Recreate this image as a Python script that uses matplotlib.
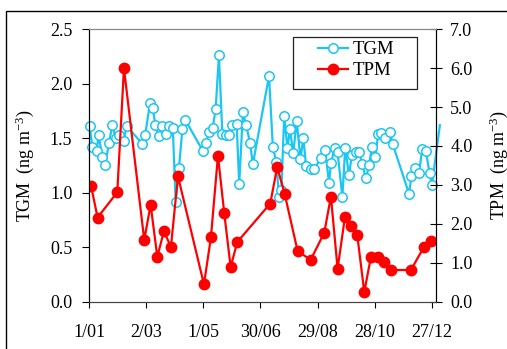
import matplotlib
matplotlib.use("Agg")
import matplotlib.pyplot as plt
from matplotlib.patches import Rectangle

plt.rcParams["font.family"] = ["Liberation Serif", "DejaVu Serif"]
plt.rcParams["mathtext.fontset"] = "custom"
plt.rcParams["mathtext.rm"] = "Liberation Serif"
plt.rcParams["mathtext.it"] = "Liberation Serif:italic"

# day of year and concentrations
tgm_day = [1.7, 4.5, 9, 11, 15, 18, 22, 25.5, 29, 32.8, 37.4, 40.5, 57, 60, 65, 68,
           70.6, 74, 78, 81.5, 85, 89, 92, 95.5, 99, 102, 120.7, 124, 127, 130.8,
           134, 137.4, 141, 145, 148, 151, 156, 158.7, 162.6, 166, 170, 173, 190,
           194, 197.6, 200.5, 203, 205.9, 209.4, 212, 215.5, 219, 223, 226, 229,
           233.7, 237.5, 245, 249, 253, 255, 259, 262, 267, 270, 274, 277, 281,
           284.7, 288, 291.7, 295, 298, 301.7, 304.6, 308, 312, 317, 319.7, 337,
           339.5, 343.7, 347.5, 350.8, 354.7, 358.5, 361, 369.4]
tgm = [1.61, 1.42, 1.38, 1.53, 1.33, 1.25, 1.46, 1.62, 1.50, 1.53, 1.47, 1.61, 1.45,
       1.53, 1.82, 1.78, 1.62, 1.52, 1.61, 1.54, 1.61, 1.59, 0.91, 1.23, 1.58, 1.67,
       1.38, 1.46, 1.56, 1.59, 1.77, 2.26, 1.54, 1.53, 1.53, 1.62, 1.63, 1.08, 1.74,
       1.62, 1.46, 1.26, 2.07, 1.42, 1.28, 0.96, 1.02, 1.70, 1.41, 1.58, 1.36, 1.66,
       1.31, 1.50, 1.24, 1.22, 1.22, 1.32, 1.39, 1.09, 1.27, 1.41, 1.37, 0.96, 1.41,
       1.16, 1.35, 1.37, 1.37, 1.26, 1.13, 1.25, 1.42, 1.33, 1.54, 1.55, 1.50, 1.56,
       1.45, 0.99, 1.15, 1.23, 1.18, 1.40, 1.38, 1.18, 1.07, 1.62]

tpm_day = [3.1, 10, 30.7, 37.7, 59, 65.7, 72.7, 79.7, 87, 94.4, 121.7, 129, 136.4,
           143, 149.7, 156.7, 191.3, 198.6, 206.4, 220, 233.7, 248, 255, 262, 269.7,
           276, 282.6, 290, 297, 304, 310.6, 318, 339, 352.6, 360]
tpm = [2.98, 2.16, 2.81, 6.00, 1.58, 2.49, 1.15, 1.81, 1.40, 3.22, 0.44, 1.65, 3.75,
       2.27, 0.89, 1.53, 2.52, 3.46, 2.77, 1.30, 1.07, 1.77, 2.70, 0.84, 2.17, 1.93,
       1.72, 0.24, 1.15, 1.14, 1.01, 0.81, 0.81, 1.40, 1.56]

xtick_pos = [1, 61, 121, 181, 241, 301, 361]
xtick_lab = ["1/01", "2/03", "1/05", "30/06", "29/08", "28/10", "27/12"]

blue = "#1CC6F2"
red = "#FF0000"

W, H = 507, 349
fig = plt.figure(figsize=(W / 100, H / 100), dpi=100)
# outer frame of the original figure (cropped at right and bottom)
fig.patches.append(Rectangle((6 / W, -0.1), 1.2, 1 - 11 / H + 0.1,
                             transform=fig.transFigure, fill=False,
                             edgecolor="black", linewidth=1.0))
ax = fig.add_axes([89 / W, 1 - 301.5 / H, 346.7 / W, 272.2 / H])
ax2 = ax.twinx()

l1, = ax.plot(tgm_day, tgm, color=blue, linewidth=1.6, marker="o", markersize=6.8,
              markerfacecolor="white", markeredgecolor=blue, markeredgewidth=1.1,
              markevery=list(range(len(tgm) - 1)), clip_on=False, label="TGM")
l2, = ax2.plot(tpm_day, tpm, color=red, linewidth=1.6, marker="o", markersize=7.5,
               markerfacecolor=red, markeredgecolor=red, label="TPM")

ax.set_xlim(1, 365)
ax.set_ylim(0, 2.5)
ax2.set_ylim(0, 7)
ax.set_yticks([0, 0.5, 1.0, 1.5, 2.0, 2.5])
ax.set_yticklabels(["%.1f" % v for v in ax.get_yticks()])
ax2.set_yticks(range(8))
ax2.set_yticklabels(["%.1f" % v for v in range(8)])
ax.set_xticks(xtick_pos)
ax.set_xticklabels(xtick_lab)

ax.tick_params(axis="y", direction="out", length=5, width=0.8, pad=7, labelsize=13)
ax.tick_params(axis="x", direction="out", length=4, width=0.8, pad=12, labelsize=13)
ax2.tick_params(axis="y", direction="inout", length=9, width=0.8, pad=6, labelsize=13)

for a in (ax, ax2):
    a.spines["top"].set_color("#888888")
    a.spines["bottom"].set_color("#444444")
    a.spines["left"].set_color("black")
    a.spines["right"].set_color("black")

ax.set_ylabel("TGM  (ng m$^{-3}$)", fontsize=13, labelpad=10)
ax2.set_ylabel("TPM  (ng m$^{-3}$)", fontsize=13, labelpad=11)

# legend box drawn separately so its padding matches the original
ax2.add_patch(Rectangle(((293 - 89) / 346.7, (301.5 - 89) / 272.2),
                        124 / 346.7, 52 / 272.2, transform=ax2.transAxes,
                        facecolor="white", edgecolor="#222222", linewidth=0.9,
                        zorder=4))
leg = ax2.legend(handles=[l1, l2], loc="upper left",
                 bbox_to_anchor=((318 - 89) / 346.7, (301.5 - 41) / 272.2),
                 borderaxespad=0, borderpad=0, frameon=False,
                 fontsize=13.5, handlelength=1.6, handletextpad=0.25,
                 labelspacing=0.22)
leg.set_zorder(5)

fig.savefig("out.png", dpi=100)
